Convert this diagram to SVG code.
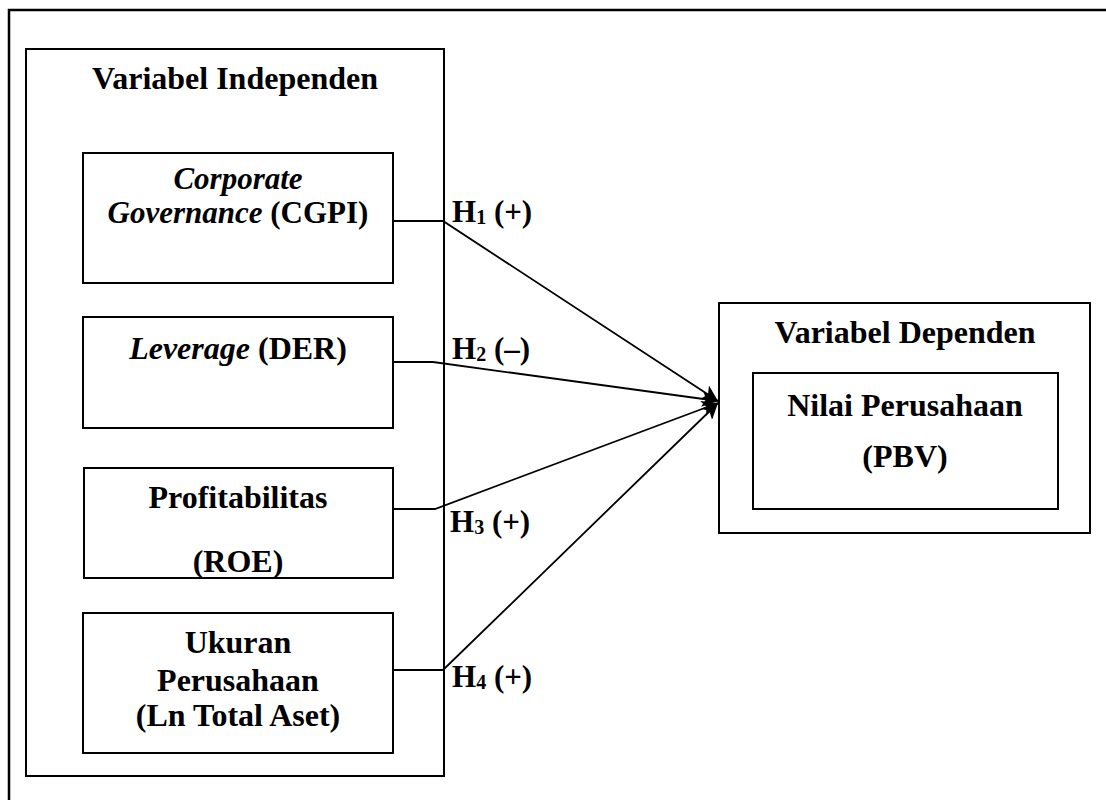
<svg xmlns="http://www.w3.org/2000/svg" width="1106" height="800" viewBox="0 0 1106 800">
<defs>
<style>
.box{fill:none;stroke:#000;stroke-width:2}
.t{font-family:"Liberation Serif","Times New Roman",serif;font-weight:bold;font-size:32px;fill:#000;text-anchor:middle}
.i{font-style:italic}
.h{font-family:"Liberation Serif","Times New Roman",serif;font-weight:bold;font-size:31px;fill:#000}
.sub{font-size:20px}
.ln{fill:none;stroke:#000;stroke-width:1.8}
</style>
<marker id="ah" markerUnits="userSpaceOnUse" markerWidth="18" markerHeight="16" refX="16" refY="8" orient="auto">
<path d="M0,0 L16,8 L0,16 L4,8 z" fill="#000"/>
</marker>
</defs>
<rect width="1106" height="800" fill="#fff"/>
<rect id="frame" x="9" y="10" width="1200" height="900" fill="none" stroke="#000" stroke-width="2.5"/>

<g id="independen">
<rect class="box" x="26" y="49" width="418" height="727"/>
<text class="t" x="235" y="89">Variabel Independen</text>
</g>

<g id="cgpi">
<rect class="box" x="83" y="153" width="310" height="130"/>
<text class="t" x="238" y="189" style="font-size:31px"><tspan class="i">Corporate</tspan><tspan x="238" dy="34"><tspan class="i">Governance</tspan> (CGPI)</tspan></text>
</g>

<g id="der">
<rect class="box" x="83" y="317" width="310" height="111"/>
<text class="t" x="238" y="359"><tspan class="i">Leverage</tspan> (DER)</text>
</g>

<g id="roe">
<rect class="box" x="84" y="468" width="309" height="110"/>
<text class="t" x="238" y="508">Profitabilitas<tspan x="238" dy="64">(ROE)</tspan></text>
</g>

<g id="ukuran">
<rect class="box" x="83" y="613" width="310" height="140"/>
<text class="t" x="238" y="653">Ukuran<tspan x="238" dy="38">Perusahaan</tspan><tspan x="238" dy="35">(Ln Total Aset)</tspan></text>
</g>

<g id="dependen">
<rect class="box" x="719" y="303" width="371" height="230"/>
<text class="t" x="905" y="343">Variabel Dependen</text>
</g>

<g id="pbv">
<rect class="box" x="753" y="373" width="305" height="136"/>
<text class="t" x="905" y="416">Nilai Perusahaan<tspan x="905" dy="51">(PBV)</tspan></text>
</g>

<g id="connectors">
<polyline class="ln" points="393,221 443,221 718,401" marker-end="url(#ah)"/>
<polyline class="ln" points="393,362 433,362 718,401" marker-end="url(#ah)"/>
<polyline class="ln" points="393,509 435,509 718,403" marker-end="url(#ah)"/>
<polyline class="ln" points="393,670 443,670 718,403" marker-end="url(#ah)"/>
</g>

<g id="labels">
<text class="h" x="452" y="222">H<tspan class="sub" dy="2">1</tspan><tspan dy="-2"> (+)</tspan></text>
<text class="h" x="452" y="359">H<tspan class="sub" dy="2">2</tspan><tspan dy="-2"> (–)</tspan></text>
<text class="h" x="450" y="532">H<tspan class="sub" dy="2">3</tspan><tspan dy="-2"> (+)</tspan></text>
<text class="h" x="452" y="687">H<tspan class="sub" dy="2">4</tspan><tspan dy="-2"> (+)</tspan></text>
</g>
</svg>
